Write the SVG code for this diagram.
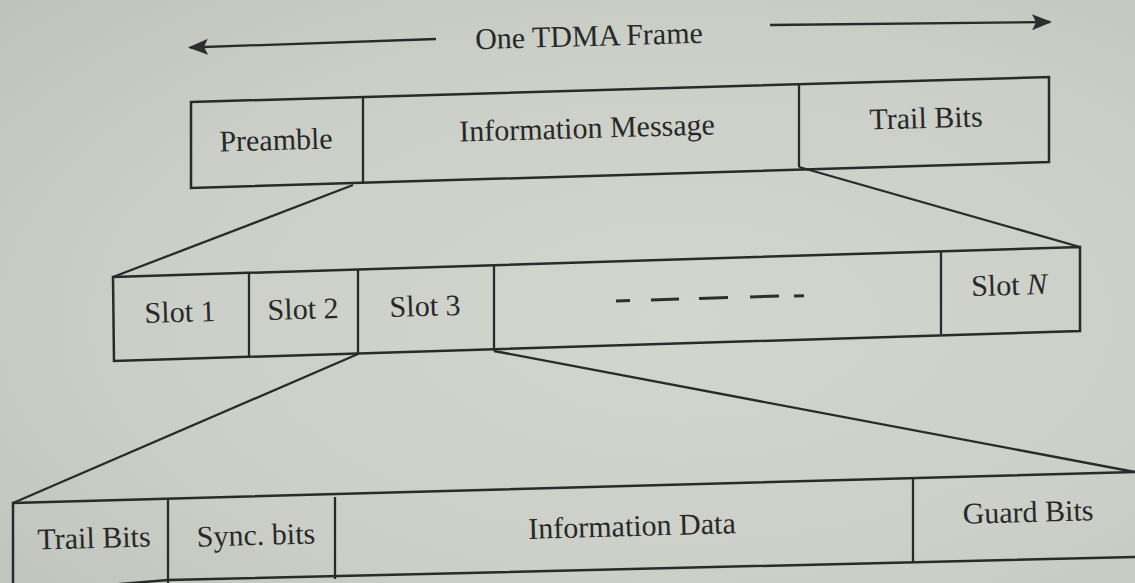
<svg xmlns="http://www.w3.org/2000/svg" width="1135" height="583" viewBox="0 0 1135 583">
  <defs>
    <radialGradient id="paper" cx="0.6" cy="0.55" r="0.8">
      <stop offset="0" stop-color="#d2d6cf"/>
      <stop offset="0.6" stop-color="#cbcfc8"/>
      <stop offset="1" stop-color="#bfc3bc"/>
    </radialGradient>
    <marker id="head" markerWidth="20" markerHeight="16" refX="18" refY="8" orient="auto" markerUnits="userSpaceOnUse">
      <path d="M0,0 L20,8 L0,16 L4,8 Z" fill="#2e2e2e"/>
    </marker>
  </defs>
  <style>
    .box { fill: none; stroke: #2a2a2a; stroke-width: 2.5; stroke-linejoin: miter; }
    .div { stroke: #2a2a2a; stroke-width: 2.3; }
    .conn { stroke: #2a2a2a; stroke-width: 2.3; fill: none; }
    .lbl { font-family: "Liberation Serif", "Times New Roman", serif; font-size: 30px; fill: #282828; text-anchor: middle; }
    .dash { stroke: #2e2e2e; stroke-width: 3; }
  </style>

  <rect x="0" y="0" width="1135" height="583" fill="url(#paper)"/>

  <!-- frame span arrows and title -->
  <g id="frame-title">
    <line class="conn" x1="436" y1="39" x2="190" y2="47.5" marker-end="url(#head)"/>
    <line class="conn" x1="770" y1="25" x2="1050" y2="22" marker-end="url(#head)"/>
    <text class="lbl" x="589" y="46" font-size="28" transform="rotate(-1.6 589 38)">One TDMA Frame</text>
  </g>

  <!-- expansion lines between levels -->
  <g id="connectors">
    <line class="conn" x1="353" y1="185" x2="113" y2="277"/>
    <line class="conn" x1="799" y1="167" x2="1080" y2="247"/>
    <line class="conn" x1="358" y1="354" x2="13" y2="503"/>
    <line class="conn" x1="494" y1="351" x2="1135" y2="472"/>
  </g>

  <!-- level 1: TDMA frame -->
  <g id="frame">
    <polygon class="box" points="191,102 1049,77 1049,162 191,188"/>
    <line class="div" x1="363" y1="97" x2="363" y2="184"/>
    <line class="div" x1="799" y1="84" x2="799" y2="167"/>
    <g id="preamble"><text class="lbl" x="276" y="150" transform="rotate(-1.6 276 140)">Preamble</text></g>
    <g id="information-message"><text class="lbl" x="587" y="138" transform="rotate(-1.6 587 128)">Information Message</text></g>
    <g id="trail-bits-frame"><text class="lbl" x="926" y="128" transform="rotate(-1.6 926 118)">Trail Bits</text></g>
  </g>

  <!-- level 2: slots -->
  <g id="slots">
    <polygon class="box" points="113,277 1080,247 1080,331 114,361"/>
    <line class="div" x1="249" y1="273" x2="249" y2="357"/>
    <line class="div" x1="358" y1="270" x2="358" y2="354"/>
    <line class="div" x1="494" y1="266" x2="494" y2="351"/>
    <line class="div" x1="941" y1="251" x2="941" y2="334"/>
    <g id="slot-1"><text class="lbl" x="180" y="322" font-size="29" transform="rotate(-1.7 180 312)">Slot 1</text></g>
    <g id="slot-2"><text class="lbl" x="303" y="319" font-size="29" transform="rotate(-1.7 303 309)">Slot 2</text></g>
    <g id="slot-3"><text class="lbl" x="425" y="316" font-size="29" transform="rotate(-1.7 425 306)">Slot 3</text></g>
    <g id="slot-gap">
      <line class="dash" x1="616" y1="301" x2="630" y2="300.5"/>
      <line class="dash" x1="651" y1="300" x2="679" y2="299"/>
      <line class="dash" x1="699" y1="298.5" x2="728" y2="297.5"/>
      <line class="dash" x1="750" y1="297" x2="779" y2="296"/>
      <line class="dash" x1="794" y1="296" x2="804" y2="295.7"/>
    </g>
    <g id="slot-n"><text class="lbl" x="1009" y="295" font-size="29" transform="rotate(-1.7 1009 285)">Slot <tspan font-style="italic">N</tspan></text></g>
  </g>

  <!-- level 3: slot contents -->
  <g id="slot-detail">
    <polyline class="box" points="13,592 13,503 1135,472"/>
    <polyline class="box" points="1137,557 168,580 13,593"/>
    <line class="div" x1="168" y1="500" x2="168" y2="583"/>
    <line class="div" x1="335" y1="497" x2="335" y2="579"/>
    <line class="div" x1="913" y1="478" x2="913" y2="562"/>
    <g id="trail-bits-slot"><text class="lbl" x="94" y="548" font-size="29" transform="rotate(-1.6 94 538)">Trail Bits</text></g>
    <g id="sync-bits"><text class="lbl" x="256" y="545" transform="rotate(-1.6 256 535)">Sync. bits</text></g>
    <g id="information-data"><text class="lbl" x="632" y="536" transform="rotate(-1.6 632 526)">Information Data</text></g>
    <g id="guard-bits"><text class="lbl" x="1028" y="522" font-size="31" transform="rotate(-1.6 1028 512)">Guard Bits</text></g>
  </g>
</svg>
